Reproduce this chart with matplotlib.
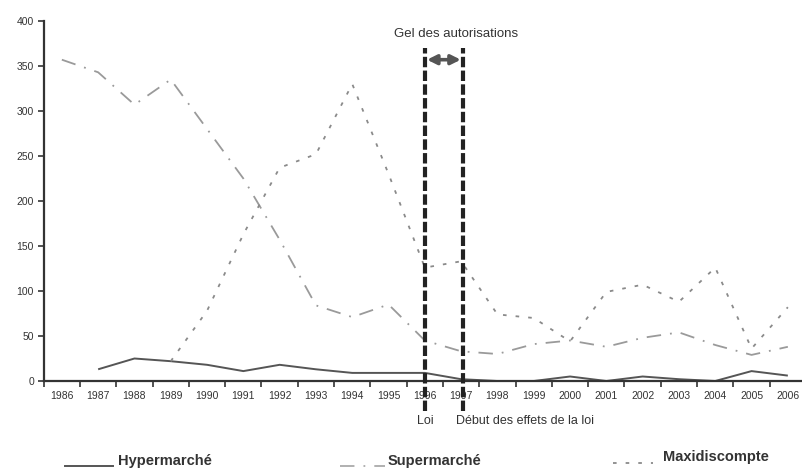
import matplotlib
matplotlib.use("Agg")
import matplotlib.pyplot as plt
from matplotlib.lines import Line2D
import numpy as np

years = [str(y) for y in range(1986, 2007)]
hypermarche = [np.nan, 13, 25, 22, 18, 11, 18, 13, 9, 9, 9, 2, 0, 0, 5, 0, 5, 2, 0, 11, 6]
supermarche = [357, 343, 307, 335, 280, 225, 157, 84, 71, 85, 45, 33, 30, 41, 45, 38, 48, 54, 40, 29, 38]
maxidiscompte = [np.nan, np.nan, np.nan, 22, 78, 163, 237, 252, 330, 230, 126, 133, 74, 70, 44, 99, 107, 88, 126, 36, 82]
yticks = [0, 50, 100, 150, 200, 250, 300, 350, 400]

plt.rcParams['font.family'] = ['Liberation Sans', 'DejaVu Sans']

fig = plt.figure(figsize=(8.02, 4.68), dpi=100)
ax = fig.add_axes([43.7/802, 1-381/468, 762.3/802, 360/468])

x = np.arange(len(years))
ax.plot(x, hypermarche, color='#555555', lw=1.4, solid_capstyle='butt')
ax.plot(x, supermarche, color='#9a9a9a', lw=1.3, linestyle=(0, (8, 5, 1, 5)))
ax.plot(x, maxidiscompte, color='#8a8a8a', lw=1.3, linestyle=(0, (2, 5)))

ax.set_xlim(-0.5, len(years) - 0.5)
ax.set_ylim(0, 400)
ax.set_yticks(yticks)
ax.set_yticklabels([str(v) for v in yticks], fontsize=7.5, color='#333333')
ax.set_xticks(x)
ax.set_xticklabels(years, fontsize=7.5, color='#333333')
ax.set_xticks(np.arange(-0.5, len(years)), minor=True)
ax.tick_params(axis='x', which='major', length=0, pad=7)
ax.tick_params(axis='x', which='minor', length=4, width=1.2, color='#333333', direction='out')
ax.tick_params(axis='y', length=4, width=1.2, color='#333333', direction='out', pad=3)
for s in ['top', 'right']:
    ax.spines[s].set_visible(False)
for s in ['left', 'bottom']:
    ax.spines[s].set_linewidth(1.6)
    ax.spines[s].set_color('#333333')

# vertical markers for the law
i_loi = years.index('1996')
i_eff = years.index('1997')
for xi in (i_loi, i_eff + 0.05):
    ax.plot([xi, xi], [-33, 370], color='#222222', lw=3, linestyle=(0, (2.5, 0.8)),
            clip_on=False, zorder=5)

ax.annotate('', xy=(i_loi + 0.06, 357), xytext=(i_eff - 0.01, 357),
            arrowprops=dict(arrowstyle='<|-|>', color='#555555', lw=2.6,
                            mutation_scale=14, shrinkA=0, shrinkB=0),
            annotation_clip=False, zorder=6)
ax.text((i_loi + i_eff) / 2 + 0.35, 386, 'Gel des autorisations', ha='center', va='center',
        fontsize=9.5, color='#333333', clip_on=False)
ax.text(i_loi, -44, 'Loi', ha='center', va='center', fontsize=9, color='#333333', clip_on=False)
ax.text(i_eff - 0.15, -44, 'Début des effets de la loi', ha='left', va='center',
        fontsize=9, color='#333333', clip_on=False)

# legend drawn manually
def W(px):
    return px / 802
def H(py):
    return 1 - py / 468

fig.add_artist(Line2D([W(65), W(113)], [H(466), H(466)], color='#555555', lw=1.4))
fig.text(W(118), H(461), 'Hypermarché', fontsize=10.5, fontweight='bold', color='#333333',
         va='center', ha='left')
fig.add_artist(Line2D([W(340), W(385)], [H(466), H(466)], color='#aaaaaa', lw=1.3,
                      linestyle=(0, (8, 5, 1, 5))))
fig.text(W(388), H(461), 'Supermarché', fontsize=10.5, fontweight='bold', color='#333333',
         va='center', ha='left')
fig.add_artist(Line2D([W(613), W(653)], [H(463), H(463)], color='#8a8a8a', lw=1.3,
                      linestyle=(0, (2, 5))))
fig.text(W(663), H(457), 'Maxidiscompte', fontsize=10.5, fontweight='bold', color='#333333',
         va='center', ha='left')

fig.savefig('out.png', dpi=100, facecolor='white')
